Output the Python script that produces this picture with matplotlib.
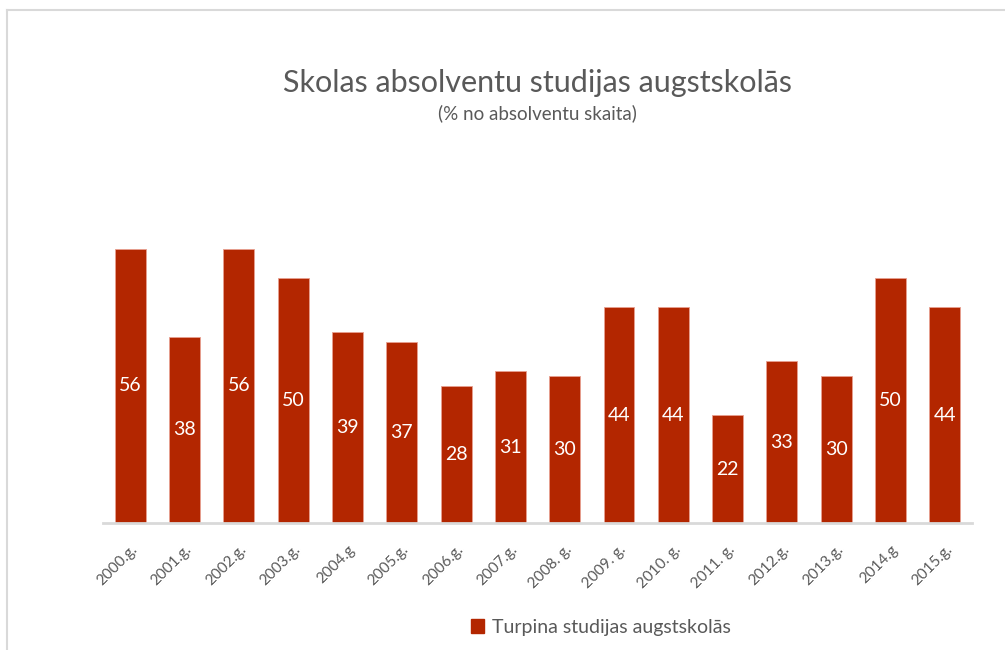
import matplotlib
matplotlib.use('Agg')
from matplotlib import pyplot as plt
from matplotlib.patches import Patch

plt.rcParams['font.family'] = ['Lato', 'DejaVu Sans']

# Skolas absolventu studijas augstskolās (% no absolventu skaita)
years = ['2000.g.', '2001.g.', '2002.g.', '2003.g.', '2004.g', '2005.g.',
         '2006.g.', '2007.g.', '2008. g.', '2009. g.', '2010. g.', '2011. g.',
         '2012.g.', '2013.g.', '2014.g', '2015.g.']
values = [56, 38, 56, 50, 39, 37, 28, 31, 30, 44, 44, 22, 33, 30, 50, 44]

bar_color = '#B32600'
grey = '#595959'

fig = plt.figure(figsize=(10.05, 6.5), dpi=100)
ax = fig.add_axes([0.1025, 0.1954, 0.8647, 0.4523])

x = list(range(len(values)))
bars = ax.bar(x, values, width=0.57, color=bar_color, edgecolor='#E8A090', linewidth=0.6)

for b, v in zip(bars, values):
    ax.text(b.get_x() + b.get_width() / 2, v / 2, str(v), ha='center', va='center',
            color='white', fontsize=14)

ax.set_xlim(-0.5, len(values) - 0.5)
ax.set_ylim(0, 60)
ax.set_yticks([])
ax.set_xticks(x)
ax.set_xticklabels(years, rotation=45, ha='right', rotation_mode='anchor',
                   color=grey, fontsize=11)
ax.tick_params(axis='x', length=0, pad=14)
for s in ['top', 'right', 'left']:
    ax.spines[s].set_visible(False)
ax.spines['bottom'].set_color('#D9D9D9')
ax.spines['bottom'].set_linewidth(2)

fig.text(0.535, 0.873, 'Skolas absolventu studijas augstskolās', ha='center', va='center',
         color=grey, fontsize=22)
fig.text(0.535, 0.826, '(% no absolventu skaita)', ha='center', va='center',
         color=grey, fontsize=13.5)

fig.legend(handles=[Patch(color=bar_color, label='Turpina studijas augstskolās')],
           loc='center', bbox_to_anchor=(0.598, 0.035), frameon=False,
           fontsize=14, handlelength=0.7, handleheight=0.7, handletextpad=0.4,
           labelcolor=grey)

# chart area border (top and left edges visible)
fig.add_artist(plt.Line2D([0.007, 1.0], [0.984, 0.984], color='#D9D9D9', linewidth=1.5))
fig.add_artist(plt.Line2D([0.007, 0.007], [0.0, 0.984], color='#D9D9D9', linewidth=1.5))

fig.savefig('out.png', dpi=100)
